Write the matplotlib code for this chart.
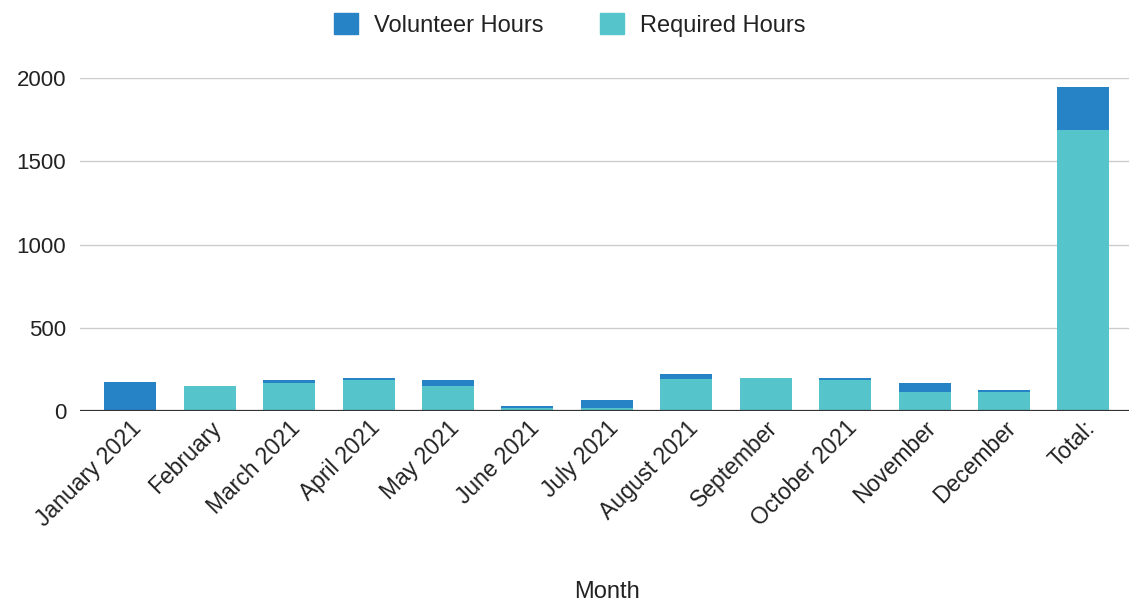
import matplotlib
matplotlib.use("Agg")
import matplotlib.pyplot as plt
import numpy as np
from matplotlib.patches import Patch

categories = ["January 2021", "February", "March 2021", "April 2021", "May 2021",
              "June 2021", "July 2021", "August 2021", "September", "October 2021",
              "November", "December", "Total:"]
required_hours = [0, 148, 170, 186, 148, 18, 16, 194, 196, 184, 112, 112, 1688]
volunteer_hours = [172, 0, 14, 10, 36, 12, 50, 28, 0, 12, 58, 12, 256]
yticks = [0, 500, 1000, 1500, 2000]

plt.rcParams['font.family'] = ['Liberation Sans', 'DejaVu Sans']
c_vol = "#2683c6"
c_req = "#56c4cb"
txt = "#222222"

fig = plt.figure(figsize=(11.29, 6.06), dpi=100)
ax = fig.add_axes([0.071, 0.322, 0.933, 0.549])
x = np.arange(len(categories))
ax.bar(x, required_hours, width=0.655, color=c_req, zorder=2)
ax.bar(x, volunteer_hours, width=0.655, bottom=required_hours, color=c_vol, zorder=2)

ax.set_xlim(-0.63, len(categories) - 0.37)
ax.set_ylim(0, 2000)
ax.set_yticks(yticks)
ax.set_yticklabels([str(v) for v in yticks], fontsize=16, color=txt)
ax.yaxis.grid(True, color="#cccccc", linewidth=1, zorder=0)
ax.axhline(0, color="#333333", linewidth=1.6, zorder=3)
ax.tick_params(axis="y", length=0, pad=10)
ax.tick_params(axis="x", length=0, pad=4)
ax.set_xticks(x)
ax.set_xticklabels(categories, rotation=45, ha="right", rotation_mode="anchor",
                   fontsize=16.5, color=txt)
for s in ax.spines.values():
    s.set_visible(False)
ax.set_xlabel("Month", fontsize=17, color=txt)
ax.xaxis.set_label_coords((607 - 80) / (1133 - 80), -(592 - 411) / 333)
ax.xaxis.label.set_va("center")

handles = [Patch(color=c_vol, label="Volunteer Hours"), Patch(color=c_req, label="Required Hours")]
fig.legend(handles=handles, loc="center", bbox_to_anchor=(570 / 1129, 1 - 25 / 606),
           ncol=2, frameon=False, fontsize=17, handlelength=1.0, handleheight=1.0,
           handletextpad=0.7, columnspacing=2.4, labelcolor=txt)

fig.savefig("out.png", dpi=100)
